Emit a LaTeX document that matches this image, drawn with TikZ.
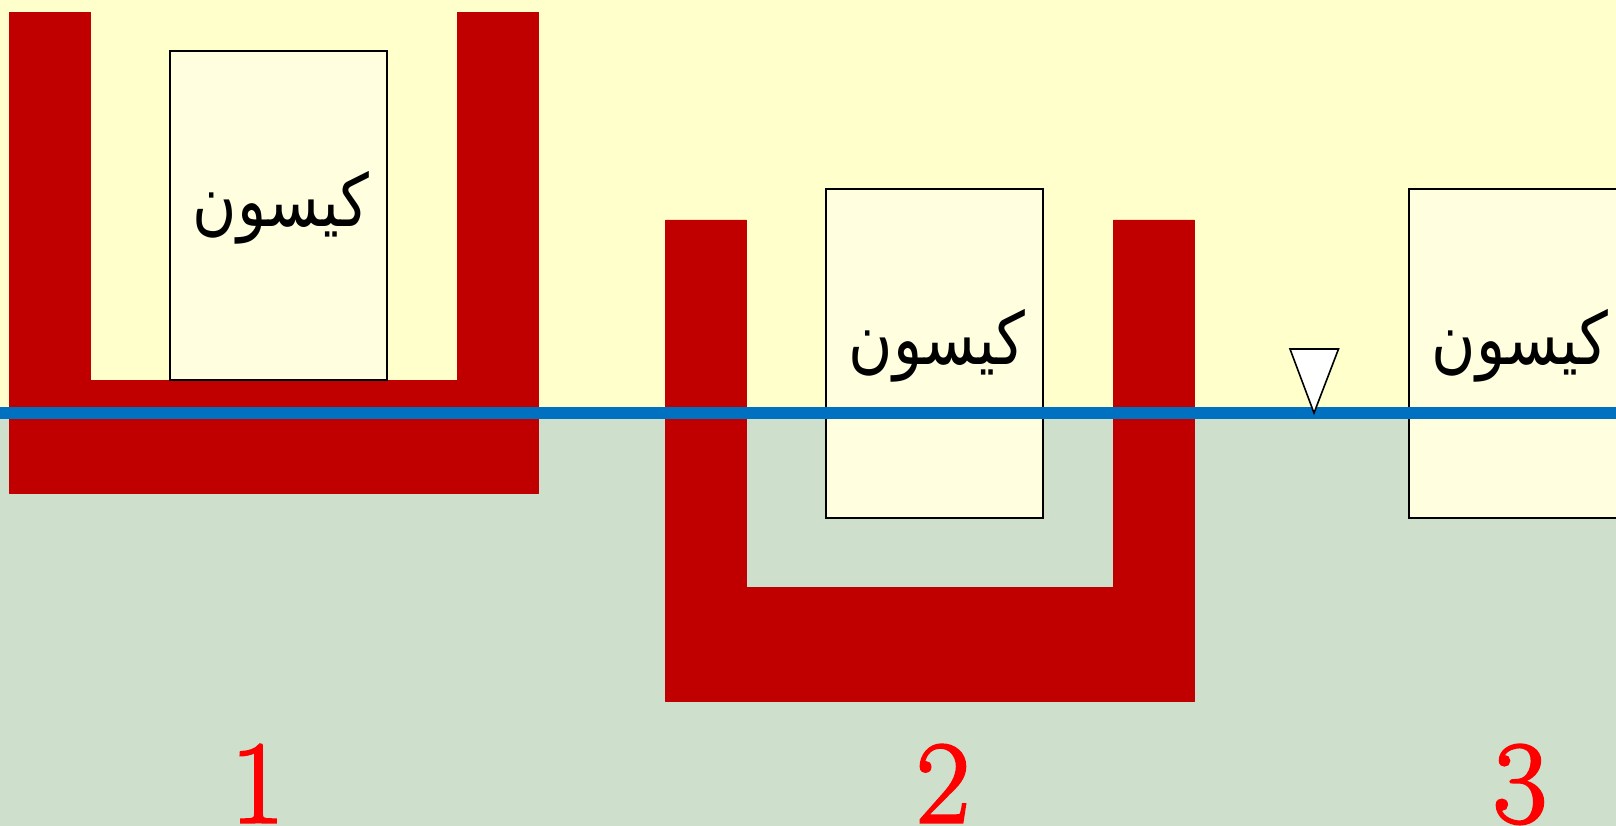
\documentclass[tikz,border=0pt]{standalone}
\usepackage{fontspec}
\newfontfamily\arabicfont[Script=Arabic]{DejaVu Sans}
\newfontfamily\numfont{Latin Modern Roman}[FakeBold=2]
\TeXXeTstate=1
\definecolor{airc}{HTML}{FFFFCC}
\definecolor{waterc}{HTML}{CEDFCC}
\definecolor{redc}{HTML}{C00000}
\definecolor{bluec}{HTML}{0070C0}
\definecolor{boxc}{HTML}{FFFFE0}
\newcommand{\caissonword}{\scalebox{1}[1.2]{\arabicfont\fontsize{60.5}{70}\selectfont\beginR کیسون\endR}}
\tikzset{
  wall/.style={fill=redc,draw=redc,line width=0.6pt,line join=round},
  caisson/.style={fill=boxc,draw=black,line width=2pt,line join=miter},
  arlabel/.style={inner sep=0pt,text=black},
  numlabel/.style={inner sep=0pt,anchor=base,font=\numfont\fontsize{118}{130}\selectfont,text=red},
  level/.style={fill=white,draw=black,line width=1.6pt,line join=miter}
}
\begin{document}
\begin{tikzpicture}[x=1pt,y=-1pt]
\useasboundingbox (0,0) rectangle (1616,826);
\clip (0,0) rectangle (1616,826);
\fill[airc] (0,0) rectangle (1616,413);
\fill[waterc] (0,413) rectangle (1616,826);
\draw[wall] (9.5,12.5) -- (90.5,12.5) -- (90.5,380) -- (457,380) -- (457,12.5) -- (538.5,12.5) -- (538.5,493) -- (9.5,493) -- cycle;
\draw[wall] (665.5,220) -- (746.5,220) -- (746.5,587.5) -- (1113,587.5) -- (1113,220) -- (1194.5,220) -- (1194.5,701) -- (665.5,701) -- cycle;
\draw[caisson] (170,51) rectangle (387,380);
\draw[caisson] (826,189) rectangle (1043,518);
\draw[caisson] (1409,189) rectangle (1640,518);
\node[arlabel] (t1) at (281,208) {\caissonword};
\node[arlabel] (t2) at (937,346) {\caissonword};
\node[arlabel] (t3) at (1520,346) {\caissonword};
\fill[bluec] (0,407) rectangle (1616,419);
\draw[level] (1290,349) -- (1338.5,349) -- (1314,413) -- cycle;
\node[numlabel] (n1) at (257.5,822.5) {1};
\node[numlabel] (n2) at (943,822.5) {2};
\node[numlabel] (n3) at (1520,822.5) {3};
\end{tikzpicture}
\end{document}
